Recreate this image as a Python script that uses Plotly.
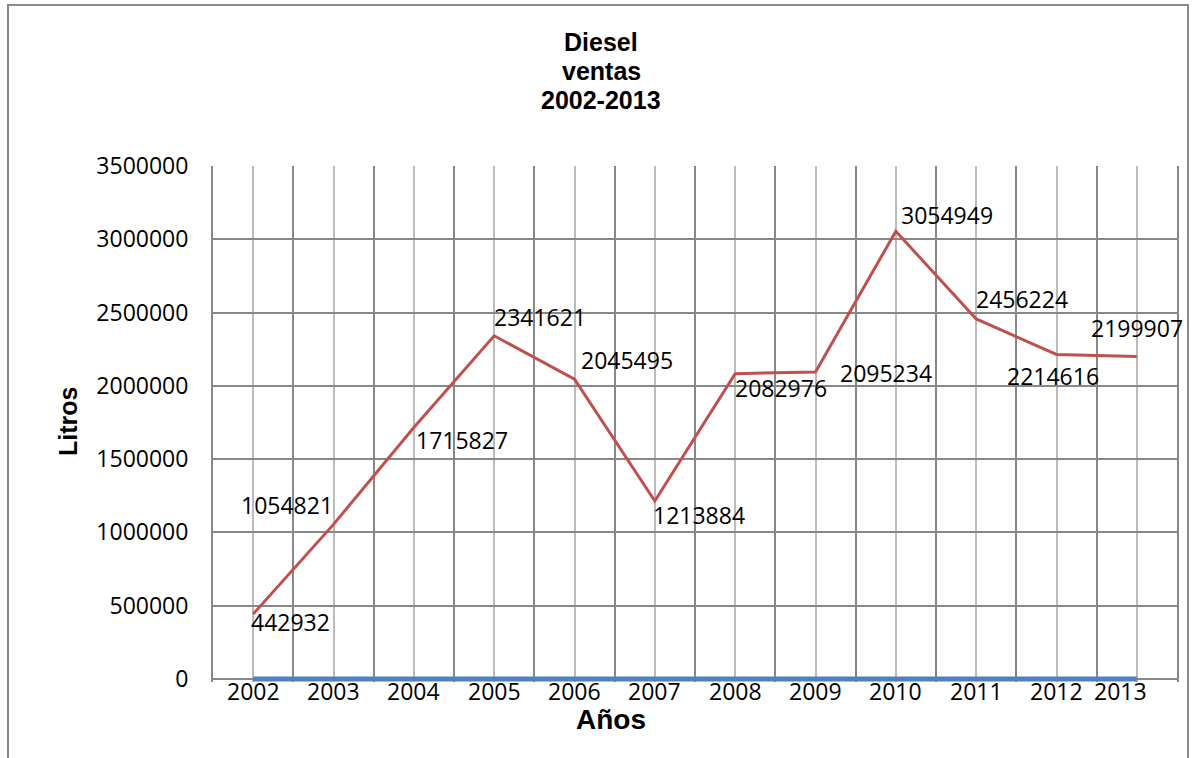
import plotly.graph_objects as go

years = ["2002", "2003", "2004", "2005", "2006", "2007", "2008", "2009", "2010", "2011", "2012", "2013"]
diesel = [442932, 1054821, 1715827, 2341621, 2045495, 1213884, 2082976, 2095234, 3054949, 2456224, 2214616, 2199907]
base = [0] * 12
y_ticks = [0, 500000, 1000000, 1500000, 2000000, 2500000, 3000000, 3500000]

# label offsets from each point (pixels, style only)
label_dx = [37, -47, 48, 46, 52, 44, 46, 70, 51, 46, -4, 0]
label_dy = [8, -19, 12, -19, -19, 14, 14, 1, -16, -20, 22, -29]

xpos = list(range(len(years)))
FONT = "Open Sans"
TFONT = "Liberation Sans, Arial"

# plot geometry: y=0 at pixel 679, y=3.5M at pixel 166; 3px of room below zero for the thick base line
PX_PER_UNIT = 513 / 3500000
Y_PAD = 3 / PX_PER_UNIT
PLOT_H = 516

fig = go.Figure()
fig.add_trace(go.Scatter(x=xpos, y=base, mode="lines",
                         line=dict(color="#4F81BD", width=5), hoverinfo="skip", showlegend=False))
fig.add_trace(go.Scatter(x=xpos, y=diesel, mode="lines",
                         line=dict(color="#C0504D", width=3), cliponaxis=False, showlegend=False))

for i, v in enumerate(diesel):
    fig.add_annotation(text=str(v), x=xpos[i], y=v, xref="x", yref="y", showarrow=False,
                       font=dict(family=FONT, size=23, color="black"),
                       xanchor="center", yanchor="middle",
                       xshift=label_dx[i], yshift=-label_dy[i])

fig.update_layout(
    width=1193, height=758,
    margin=dict(l=213, r=16, t=166, b=76, autoexpand=False),
    paper_bgcolor="white", plot_bgcolor="white",
    showlegend=False,
    xaxis=dict(range=[-0.5, 11.5], tickmode="array", tickvals=xpos, ticktext=years,
               showticklabels=False,
               showgrid=True, gridcolor="#BBBBBB", gridwidth=2,
               minor=dict(tickmode="array", tickvals=[i - 0.5 for i in range(13)],
                          showgrid=True, gridcolor="#888888", gridwidth=2),
               showline=False, zeroline=False, ticks=""),
    yaxis=dict(range=[-Y_PAD, 3500000], tickmode="array", tickvals=y_ticks,
               ticktext=[str(v) for v in y_ticks],
               tickfont=dict(family=FONT, size=23, color="black"),
               showgrid=True, gridcolor="#888888", gridwidth=2,
               showline=True, linecolor="#888888", linewidth=2, mirror=True,
               zeroline=False, ticks="", ticklabelstandoff=18),
)


def py(pix):
    """paper y for a pixel row of the page"""
    return (682 - pix) / PLOT_H


def px(pix):
    return (pix - 213) / 964


# category labels along the x axis
for i, yr in enumerate(years):
    fig.add_annotation(text=yr, x=xpos[i], y=py(691), xref="x", yref="paper",
                       showarrow=False, font=dict(family=FONT, size=23, color="black"),
                       xanchor="center", yanchor="middle", xshift=(-16 if i == len(years) - 1 else 0))

for txt, yy in [("Diesel", 42), ("ventas", 71), ("2002-2013", 100)]:
    fig.add_annotation(text="<b>" + txt + "</b>", x=px(601), y=py(yy),
                       xref="paper", yref="paper", showarrow=False,
                       font=dict(family=TFONT, size=25, color="black"), yanchor="middle")
fig.add_annotation(text="<b>Años</b>", x=px(611), y=py(719), xref="paper", yref="paper",
                   showarrow=False, font=dict(family=TFONT, size=28, color="black"), yanchor="middle")
fig.add_annotation(text="<b>Litros</b>", x=px(68), y=py(422), xref="paper", yref="paper",
                   showarrow=False, textangle=-90, font=dict(family=TFONT, size=25, color="black"),
                   xanchor="center", yanchor="middle")

fig.add_shape(type="rect", xref="paper", yref="paper",
              x0=px(8), x1=px(1188), y0=py(800), y1=py(5),
              line=dict(color="#888888", width=2), layer="below")

fig.write_html("out.html", config={"displayModeBar": False},
               post_script="document.body.style.margin='0';document.body.style.overflow='hidden';")
